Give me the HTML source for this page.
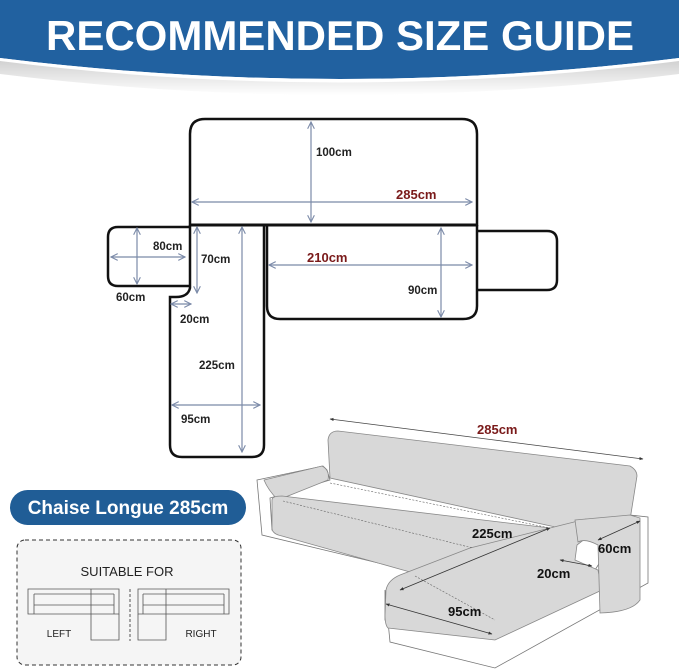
<!DOCTYPE html>
<html><head><meta charset="utf-8"><style>
html,body{margin:0;padding:0;background:#fff;}
svg{display:block;}
text{font-family:"Liberation Sans",sans-serif;}
</style></head><body>
<svg width="679" height="671" viewBox="0 0 679 671" xmlns="http://www.w3.org/2000/svg">
<defs>
<marker id="ah" viewBox="0 0 10 10" refX="9" refY="5" markerWidth="7" markerHeight="7" orient="auto-start-reverse"><path d="M1,1 L9,5 L1,9" fill="none" stroke="#7b8aa8" stroke-width="1.3"/></marker>
<marker id="ak" viewBox="0 0 10 10" refX="9" refY="5" markerWidth="5" markerHeight="5" orient="auto-start-reverse"><path d="M0,1 L10,5 L0,9z" fill="#333"/></marker>
<linearGradient id="sh" x1="0" y1="0" x2="0" y2="1"><stop offset="0" stop-color="#d0d0d0"/><stop offset="1" stop-color="#fff"/></linearGradient>
</defs>
<!-- header -->
<path d="M0,60 Q340,100 679,60 L679,74 Q340,116 0,74Z" fill="url(#sh)"/>
<path d="M0,0 H679 V58 Q340,100 0,58Z" fill="#2161a0"/>
<path d="M0,58 Q340,100 679,58 L679,61 Q340,104 0,61Z" fill="#fff"/>
<text x="340" y="50" text-anchor="middle" font-size="42" font-weight="bold" fill="#fff" textLength="588" lengthAdjust="spacingAndGlyphs">RECOMMENDED SIZE GUIDE</text>

<!-- flat diagram -->
<g fill="none" stroke="#111" stroke-width="2.5">
<path d="M190,225 V134 Q190,119 205,119 H462 Q477,119 477,134 V225 Z"/>
<path d="M190,227 H118 Q108,227 108,237 V276 Q108,286 118,286 H190"/>
<path d="M190,225 V288 Q188,297 176,297 H170 V445 Q170,457 182,457 H252 Q264,457 264,445 V225"/>
<path d="M267,225 V306 Q267,319 280,319 H463 Q477,319 477,306 V225"/>
<path d="M477,231 H547 Q557,231 557,241 V280 Q557,290 547,290 H477"/>
<path d="M190,225 H477" stroke-width="3"/>
</g>
<g stroke="#7b8aa8" stroke-width="1.2" marker-start="url(#ah)" marker-end="url(#ah)">
<line x1="311" y1="122" x2="311" y2="222"/>
<line x1="192" y1="202" x2="472" y2="202"/>
<line x1="111" y1="257" x2="185" y2="257"/>
<line x1="137" y1="228" x2="137" y2="284"/>
<line x1="197" y1="227" x2="197" y2="293"/>
<line x1="171" y1="304" x2="191" y2="304"/>
<line x1="242" y1="227" x2="242" y2="452"/>
<line x1="172" y1="405" x2="260" y2="405"/>
<line x1="269" y1="265" x2="472" y2="265"/>
<line x1="441" y1="228" x2="441" y2="317"/>
</g>
<g font-size="11.5" font-weight="bold" fill="#222">
<text x="316" y="156">100cm</text>
<text x="153" y="250">80cm</text>
<text x="116" y="301">60cm</text>
<text x="201" y="263">70cm</text>
<text x="180" y="323">20cm</text>
<text x="199" y="369">225cm</text>
<text x="181" y="423">95cm</text>
<text x="408" y="294">90cm</text>
</g>
<g font-size="13" font-weight="bold" fill="#7a1a1a">
<text x="396" y="199">285cm</text>
<text x="307" y="262">210cm</text>
<text x="477" y="434">285cm</text>
</g>

<!-- sofa -->
<line x1="330" y1="419" x2="643" y2="459" stroke="#444" stroke-width="0.8" marker-start="url(#ak)" marker-end="url(#ak)"/>
<g stroke="#777" stroke-width="0.8" fill="#fff">
<path d="M257,480 L323,466 L327,470 L330,480 L270,498 L272,530 L430,570 L420,573 L262,535 Z"/>
<path d="M385,590 L390,642 L495,668 L648,583 L648,517 L630,515 L595,570 L385,620Z"/>
</g>
<g fill="#d8d8d8" stroke="#888" stroke-width="0.8">
<path d="M328,440 Q329,431 338,431 L630,466 Q637,470 637,476 L630,520 L560,528 L330,478Z"/>
<path d="M264,480 L322,466 Q330,470 328,480 L278,500 Q268,490 264,480Z"/>
<path d="M272,500 Q272,496 282,496 L550,528 L470,550 L410,572 L282,536 Q272,534 272,528Z"/>
<path d="M470,548 L550,528 L586,519 L600,527 L577,545 L575,560 L598,570 L602,590 L495,640 L388,628 Q385,625 385,615 L386,590 Q388,580 400,575Z"/>
<path d="M575,520 L630,515 L640,518 L640,600 Q632,612 600,613 L598,545 Q585,538 578,542Z"/>
</g>
<g stroke="#666" stroke-width="0.6" fill="none" stroke-dasharray="2,1.5">
<path d="M283,501 L473,548"/><path d="M330,483 L550,528"/><path d="M415,576 L495,620"/>
</g>
<g stroke="#333" stroke-width="0.8" marker-start="url(#ak)" marker-end="url(#ak)">
<line x1="550" y1="528" x2="400" y2="590"/>
<line x1="640" y1="521" x2="598" y2="540"/>
<line x1="560" y1="560" x2="592" y2="566"/>
<line x1="386" y1="604" x2="492" y2="634"/>
</g>
<g font-size="13" font-weight="bold" fill="#111">
<text x="472" y="538">225cm</text>
<text x="598" y="553">60cm</text>
<text x="537" y="578">20cm</text>
<text x="448" y="616">95cm</text>
</g>

<!-- pill + box -->
<rect x="10" y="490" width="236" height="35" rx="17.5" fill="#205d96"/>
<text x="128" y="514" text-anchor="middle" font-size="19" font-weight="bold" fill="#fff">Chaise Longue 285cm</text>
<rect x="17" y="540" width="224" height="125" rx="8" fill="#f5f5f5" stroke="#333" stroke-width="1" stroke-dasharray="4,3"/>
<text x="127" y="576" text-anchor="middle" font-size="13" fill="#222">SUITABLE FOR</text>
<line x1="130" y1="589" x2="130" y2="641" stroke="#555" stroke-dasharray="3,2"/>
<g fill="none" stroke="#555" stroke-width="0.8">
<path d="M28,589 H119 V614 H28Z"/><path d="M34,594 H114 M34,594 V614 M114,594 V614 M34,605 H114"/>
<path d="M91,589 V640 H119 V614"/>
<path d="M138,589 H229 V614 H138Z"/><path d="M143,594 H224 M143,594 V614 M224,594 V614 M143,605 H224"/>
<path d="M166,589 V640 H138 V614"/>
</g>
<text x="59" y="637" text-anchor="middle" font-size="10" fill="#222">LEFT</text>
<text x="201" y="637" text-anchor="middle" font-size="10" fill="#222">RIGHT</text>
</svg>
</body></html>
